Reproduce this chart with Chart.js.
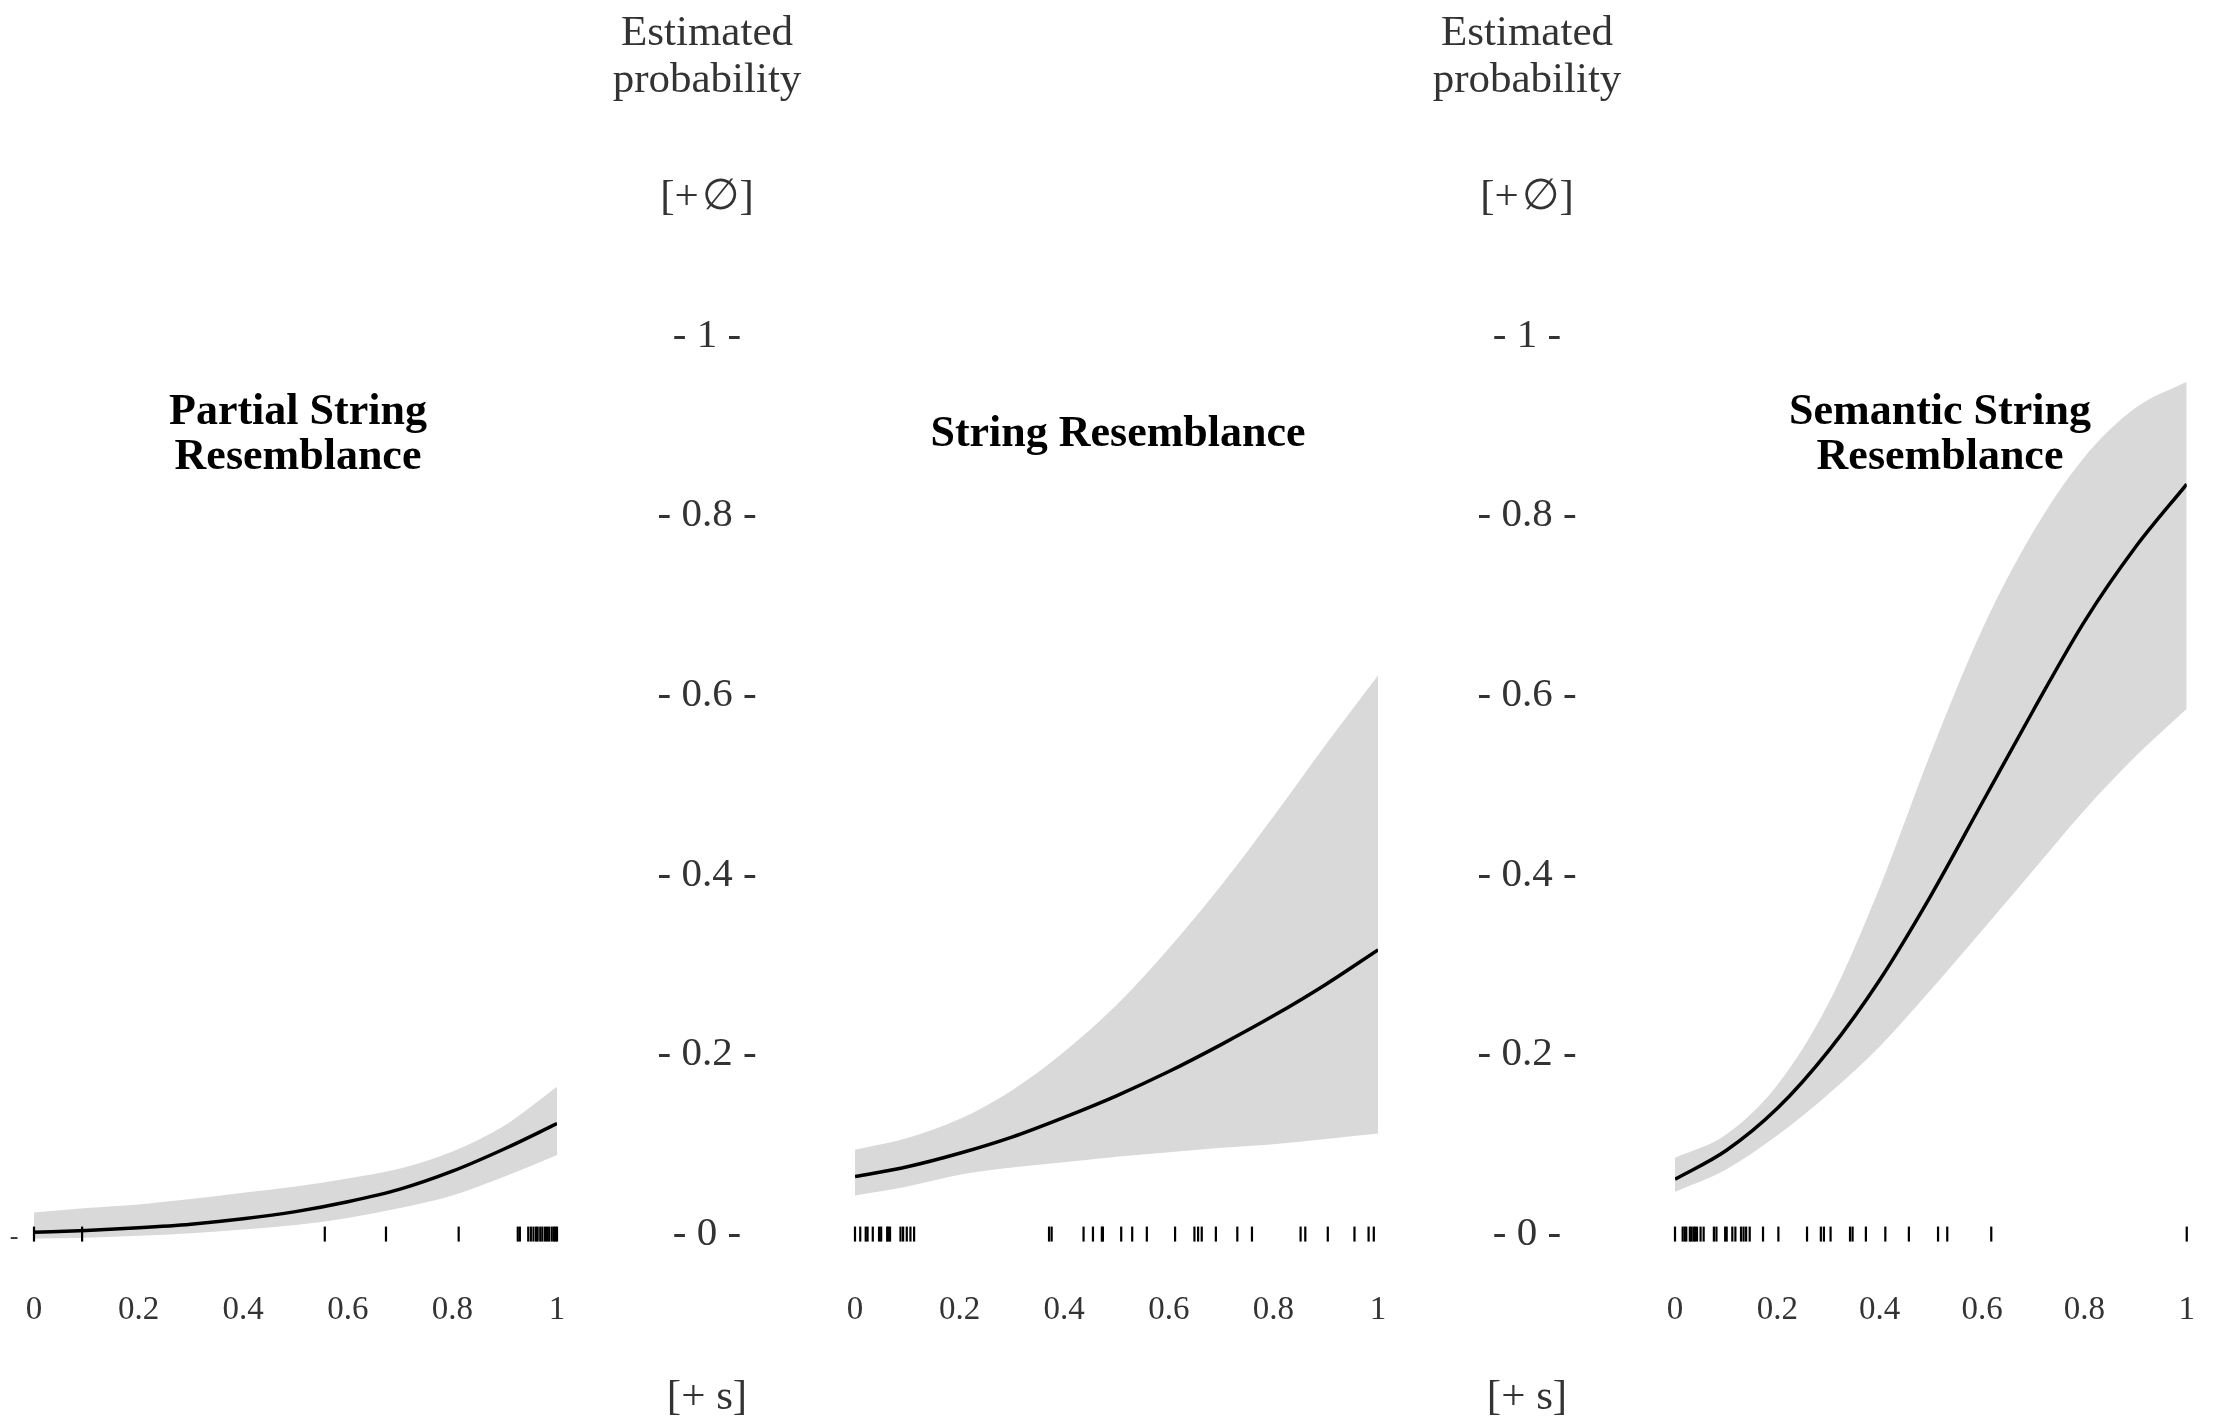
<!DOCTYPE html>
<html>
<head>
<meta charset="utf-8">
<script src="https://cdn.jsdelivr.net/npm/chart.js@4.4.0/dist/chart.umd.min.js"></script>
<style>
  html, body { margin: 0; padding: 0; background: #fff; }
  body { width: 2216px; height: 1426px; position: relative; overflow: hidden; font-family: "Liberation Serif", "DejaVu Serif", serif; }
  .panel { position: absolute; top: 0; height: 1426px; }
  .title { position: absolute; font-weight: bold; font-size: 44px; line-height: 45px; text-align: center; color: #000; z-index: 2; width: 560px; }
  .axis-text { position: absolute; font-size: 43px; line-height: 47px; text-align: center; color: #333; width: 300px; }
</style>
</head>
<body>
<div class="panel" style="left:0;width:600px"><canvas id="chart-partial"></canvas></div>
<div class="panel" style="left:559px;width:860px"><canvas id="chart-string"></canvas></div>
<div class="panel" style="left:1379px;width:837px"><canvas id="chart-semantic"></canvas></div>

<div class="title" style="left:18px;top:387px">Partial String<br>Resemblance</div>
<div class="title" style="left:838px;top:409px">String Resemblance</div>
<div class="title" style="left:1660px;top:387px">Semantic String<br>Resemblance</div>

<div class="axis-text" style="left:557px;top:7px">Estimated<br>probability</div>
<div class="axis-text" style="left:557px;top:171px">[+&#8202;&#8709;]</div>
<div class="axis-text" style="left:557px;top:1371px">[+ s]</div>
<div class="axis-text" style="left:1377px;top:7px">Estimated<br>probability</div>
<div class="axis-text" style="left:1377px;top:171px">[+&#8202;&#8709;]</div>
<div class="axis-text" style="left:1377px;top:1371px">[+ s]</div>
<div class="axis-text" style="left:-136px;top:1212px;font-size:26px;width:300px">-</div>

<script>
// x grid of the fitted curves
const xs = [0, 0.1, 0.2, 0.3, 0.4, 0.5, 0.6, 0.7, 0.8, 0.9, 1];

// Partial String Resemblance
const partialFit   = [0.002, 0.004, 0.007, 0.011, 0.017, 0.025, 0.036, 0.050, 0.070, 0.095, 0.123];
const partialUpper = [0.024, 0.029, 0.033, 0.039, 0.046, 0.053, 0.062, 0.073, 0.092, 0.121, 0.164];
const partialLower = [-0.005, -0.004, -0.002, 0.001, 0.005, 0.010, 0.018, 0.029, 0.043, 0.064, 0.088];
const partialRug = [0, 0.092, 0.556, 0.673, 0.812, 0.925, 0.929, 0.945, 0.95, 0.955, 0.96, 0.963,
  0.968, 0.972, 0.977, 0.981, 0.985, 0.99, 0.994, 0.997, 1.0];

// String Resemblance
const stringFit   = [0.064, 0.075, 0.090, 0.108, 0.130, 0.154, 0.181, 0.211, 0.243, 0.278, 0.3165];
const stringUpper = [0.094, 0.107, 0.128, 0.160, 0.203, 0.255, 0.318, 0.388, 0.465, 0.545, 0.622];
const stringLower = [0.043, 0.053, 0.066, 0.074, 0.080, 0.086, 0.091, 0.096, 0.100, 0.106, 0.112];
const stringRug = [0, 0.010, 0.0205, 0.024, 0.034, 0.046, 0.050, 0.0615, 0.0636, 0.067, 0.087, 0.092,
  0.099, 0.106, 0.113, 0.371, 0.376, 0.437, 0.455, 0.472, 0.474, 0.509, 0.530, 0.558, 0.612, 0.649,
  0.656, 0.663, 0.690, 0.731, 0.759, 0.852, 0.861, 0.904, 0.955, 0.982, 0.992];

// Semantic String Resemblance
const semanticFit   = [0.061, 0.093, 0.140, 0.204, 0.283, 0.377, 0.480, 0.583, 0.682, 0.765, 0.835];
const semanticUpper = [0.085, 0.111, 0.166, 0.257, 0.386, 0.536, 0.673, 0.782, 0.865, 0.920, 0.949];
const semanticLower = [0.047, 0.072, 0.110, 0.156, 0.209, 0.272, 0.338, 0.405, 0.472, 0.532, 0.585];
const semanticRug = [0, 0.015, 0.019, 0.022, 0.029, 0.032, 0.036, 0.039, 0.043, 0.050, 0.056, 0.076,
  0.081, 0.098, 0.101, 0.112, 0.118, 0.129, 0.134, 0.139, 0.146, 0.172, 0.202, 0.258, 0.285, 0.291,
  0.304, 0.342, 0.347, 0.373, 0.411, 0.457, 0.514, 0.532, 0.618, 1.0];

// tick labels
const xTicks = [0, 0.2, 0.4, 0.6, 0.8, 1];
const xTickLabels = ['0', '0.2', '0.4', '0.6', '0.8', '1'];
const yTicks = [0, 0.2, 0.4, 0.6, 0.8, 1];
const yTickLabels = ['- 0 -', '- 0.2 -', '- 0.4 -', '- 0.6 -', '- 0.8 -', '- 1 -'];

const FONT = "'Liberation Serif', 'DejaVu Serif', serif";
const Y_FONT_SIZE = 41;
const Y_AXIS_WIDTH = 296;

// 가운데 축 라벨을 가운데 정렬하기 위해 가장 긴 라벨 폭을 잰다
const measure = document.createElement('canvas').getContext('2d');
measure.font = Y_FONT_SIZE + 'px ' + FONT;
const widestY = Math.max(...yTickLabels.map(t => measure.measureText(t).width));

function toPoints(values) {
  return xs.map((x, i) => ({ x: x, y: values[i] }));
}

function makePanel(id, fit, upper, lower, rug, showY, padLeft, padRight) {
  const ctx = document.getElementById(id).getContext('2d');
  return new Chart(ctx, {
    type: 'line',
    data: {
      datasets: [
        {
          // 신뢰구간 위쪽 (아래쪽 곡선까지 채움)
          data: toPoints(upper),
          order: 3,
          borderWidth: 0,
          pointRadius: 0,
          backgroundColor: '#d9d9d9',
          fill: '+1',
          cubicInterpolationMode: 'monotone'
        },
        {
          data: toPoints(lower),
          order: 4,
          borderWidth: 0,
          pointRadius: 0,
          fill: false,
          cubicInterpolationMode: 'monotone'
        },
        {
          data: toPoints(fit),
          order: 1,
          borderColor: '#000',
          borderWidth: 3.5,
          pointRadius: 0,
          fill: false,
          cubicInterpolationMode: 'monotone'
        },
        {
          // rug plot
          type: 'scatter',
          data: rug.map(v => ({ x: v, y: 0 })),
          order: 0,
          pointStyle: 'line',
          rotation: 90,
          pointRadius: 7.5,
          borderColor: '#000',
          borderWidth: 2.2,
          clip: false
        }
      ]
    },
    options: {
      responsive: true,
      maintainAspectRatio: false,
      animation: false,
      events: [],
      layout: { padding: { top: 336, bottom: 96, left: padLeft, right: padRight } },
      plugins: { legend: { display: false }, tooltip: { enabled: false } },
      scales: {
        x: {
          type: 'linear',
          min: 0,
          max: 1,
          border: { display: false },
          grid: { display: false, drawTicks: false },
          afterBuildTicks: s => { s.ticks = xTicks.map(v => ({ value: v })); },
          afterFit: s => { s.height = 60; },
          ticks: {
            padding: 21,
            color: '#333',
            font: { family: FONT, size: 33 },
            maxRotation: 0,
            autoSkip: false,
            callback: (v) => xTickLabels[xTicks.indexOf(v)]
          }
        },
        y: {
          type: 'linear',
          display: showY,
          position: 'left',
          min: -0.04,
          max: 1,
          border: { display: false },
          grid: { display: false, drawTicks: false },
          afterBuildTicks: s => { s.ticks = yTicks.map(v => ({ value: v })); },
          afterFit: s => { if (showY) s.width = Y_AXIS_WIDTH; },
          ticks: {
            crossAlign: 'center',
            padding: (Y_AXIS_WIDTH - widestY) / 2,
            color: '#333',
            font: { family: FONT, size: Y_FONT_SIZE },
            autoSkip: false,
            callback: (v) => yTickLabels[yTicks.indexOf(v)]
          }
        }
      }
    }
  });
}

makePanel('chart-partial', partialFit, partialUpper, partialLower, partialRug, false, 34, 43);
makePanel('chart-string', stringFit, stringUpper, stringLower, stringRug, true, 0, 41);
makePanel('chart-semantic', semanticFit, semanticUpper, semanticLower, semanticRug, true, 0, 18);
</script>
</body>
</html>
